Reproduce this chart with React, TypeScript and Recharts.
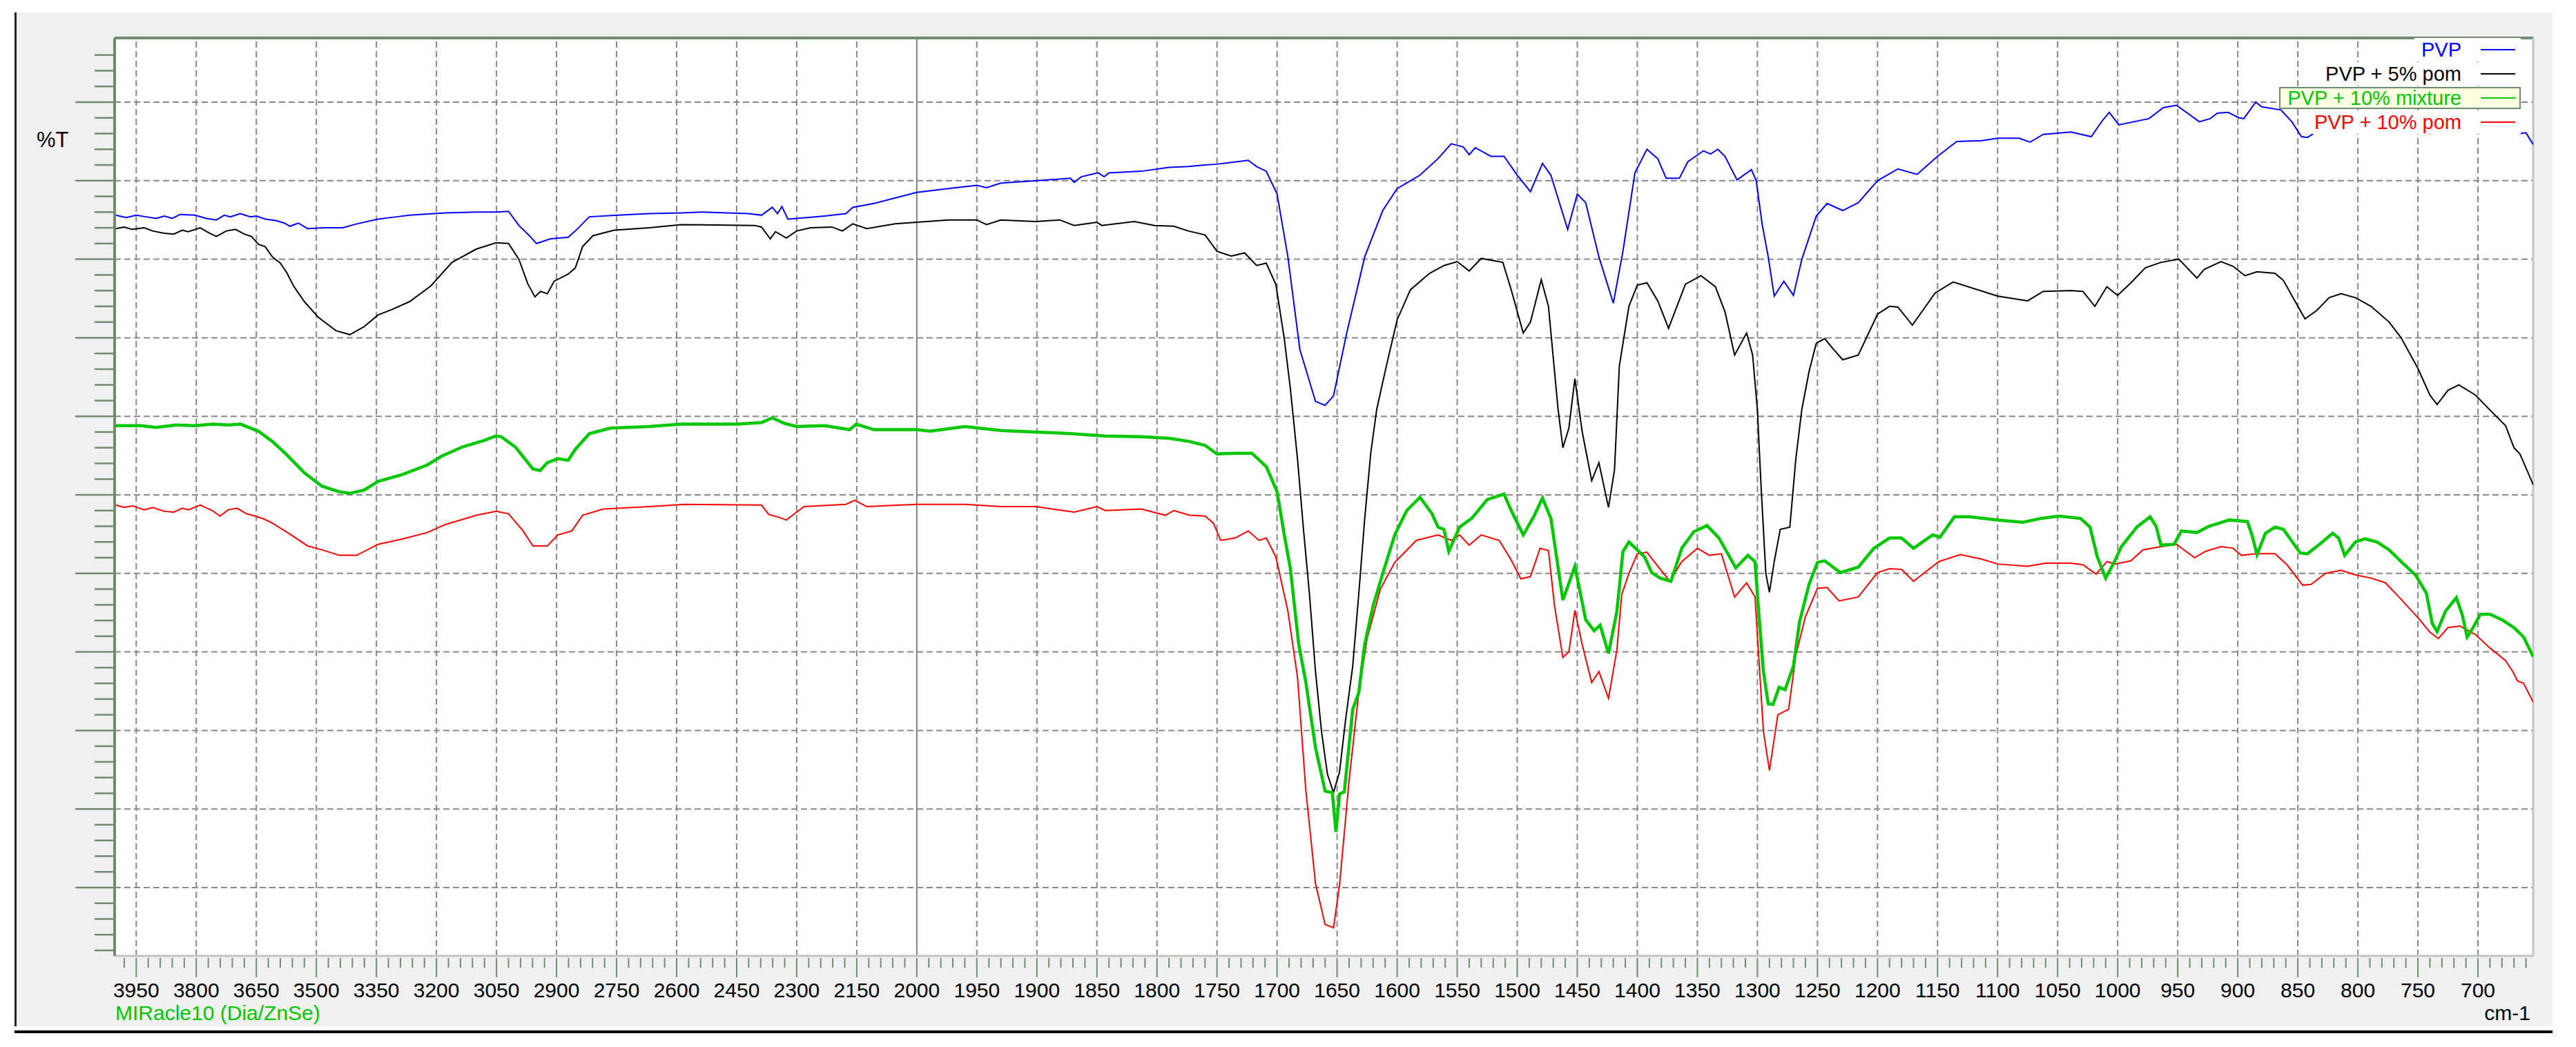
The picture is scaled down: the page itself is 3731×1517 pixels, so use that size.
import React from 'react';
import { LineChart, Line, XAxis, YAxis, ReferenceLine, CartesianGrid, Legend } from 'recharts';

const W = 3731;
const H = 1517;
const FONT = '"Liberation Sans", Arial, sans-serif';
const FRAME = '#6f8c6f';

// spectra as [wavenumber (cm-1), %T]
const pvp: [number, number][] = [
  [4001, 85.6], [3975, 85.3], [3950, 85.6], [3926, 85.4], [3900, 85.2], [3880, 85.5], [3860, 85.2], [3840, 85.7],
  [3803, 85.6], [3775, 85.2], [3750, 85.0], [3730, 85.6], [3715, 85.4], [3690, 85.8], [3665, 85.4], [3650, 85.5],
  [3627, 85.1], [3600, 84.9], [3580, 84.6], [3566, 84.2], [3545, 84.6], [3522, 83.9], [3480, 84.0], [3434, 84.0],
  [3399, 84.5], [3346, 85.1], [3300, 85.4], [3267, 85.6], [3179, 85.9], [3100, 86.0], [3051, 86.0], [3020, 86.1],
  [2994, 84.3], [2968, 83.0], [2950, 82.0], [2915, 82.6], [2871, 82.8], [2853, 83.6], [2818, 85.4], [2747, 85.6],
  [2668, 85.8], [2589, 85.9], [2537, 86.0], [2420, 85.8], [2388, 85.6], [2361, 86.6], [2348, 85.8], [2337, 86.7],
  [2322, 85.1], [2300, 85.2], [2230, 85.5], [2177, 85.8], [2160, 86.6], [2107, 87.1], [2054, 87.8], [2000, 88.5],
  [1974, 89.0], [1950, 89.4], [1942, 89.1], [1930, 89.7], [1900, 90.0], [1872, 90.3], [1869, 89.8], [1863, 90.5],
  [1849, 91.0], [1844, 90.5], [1840, 91.0], [1813, 91.2], [1790, 91.7], [1774, 91.8], [1760, 92.0], [1750, 92.1],
  [1724, 92.6], [1717, 91.8], [1709, 91.2], [1700, 88.3], [1691, 80.3], [1681, 68.5], [1668, 61.9], [1660, 61.4],
  [1653, 62.6], [1642, 70.6], [1627, 80.3], [1612, 86.2], [1600, 89.0], [1581, 90.7], [1566, 92.8], [1555, 94.7],
  [1545, 94.3], [1540, 93.3], [1535, 94.2], [1522, 93.1], [1511, 93.1], [1500, 90.7], [1489, 88.6], [1479, 92.2],
  [1472, 90.7], [1458, 83.8], [1450, 88.3], [1443, 87.2], [1432, 80.3], [1420, 74.4], [1412, 81.0], [1402, 91.0],
  [1392, 94.0], [1383, 92.8], [1376, 90.3], [1365, 90.3], [1358, 92.4], [1345, 93.8], [1339, 93.4], [1333, 94.0],
  [1327, 93.1], [1317, 90.1], [1305, 91.4], [1301, 90.0], [1296, 84.4], [1291, 80.3], [1286, 75.3], [1278, 77.2],
  [1270, 75.4], [1263, 80.0], [1251, 85.5], [1242, 87.1], [1229, 86.2], [1216, 87.2], [1200, 90.0], [1183, 91.5],
  [1167, 90.8], [1150, 93.1], [1134, 95.0], [1113, 95.1], [1100, 95.4], [1082, 95.4], [1073, 94.9], [1062, 95.9],
  [1039, 96.2], [1022, 95.6], [1013, 97.6], [1007, 98.7], [999, 97.1], [974, 97.9], [962, 99.3], [951, 99.6],
  [932, 97.5], [923, 97.9], [917, 98.6], [908, 98.7], [899, 98.0], [895, 97.9], [885, 100.0], [880, 99.4],
  [864, 99.0], [855, 97.5], [847, 95.6], [842, 95.5], [836, 96.1], [820, 97.2], [800, 97.5], [780, 97.0],
  [760, 96.5], [740, 96.0], [720, 96.5], [700, 97.0], [680, 96.8], [665, 96.0], [660, 96.1], [654, 94.6],
];

const pvpPom5: [number, number][] = [
  [4001, 83.9], [3980, 84.1], [3960, 83.8], [3930, 84.0], [3909, 83.6], [3880, 83.3], [3856, 83.2], [3835, 83.7],
  [3820, 83.5], [3790, 84.0], [3770, 83.4], [3750, 82.9], [3725, 83.6], [3702, 83.8], [3680, 83.2], [3662, 82.9],
  [3645, 81.9], [3628, 81.6], [3610, 80.3], [3590, 79.5], [3574, 78.3], [3557, 76.6], [3530, 74.6], [3495, 72.6],
  [3451, 70.9], [3416, 70.4], [3381, 71.4], [3346, 72.9], [3311, 73.6], [3267, 74.6], [3214, 76.6], [3161, 79.6],
  [3100, 81.3], [3051, 82.1], [3020, 82.0], [2994, 80.0], [2972, 76.9], [2954, 75.2], [2940, 75.9], [2923, 75.6],
  [2906, 77.2], [2871, 78.1], [2853, 78.9], [2835, 81.6], [2809, 83.0], [2756, 83.7], [2668, 84.0], [2589, 84.4],
  [2405, 84.3], [2388, 84.1], [2366, 82.6], [2353, 83.5], [2326, 82.7], [2300, 83.6], [2265, 84.0], [2212, 84.1],
  [2186, 83.6], [2160, 84.5], [2125, 83.9], [2054, 84.5], [2000, 84.7], [1974, 85.0], [1950, 85.0], [1942, 84.4],
  [1930, 85.0], [1901, 84.8], [1881, 85.0], [1869, 84.3], [1850, 84.7], [1846, 84.3], [1819, 84.8], [1802, 84.3],
  [1786, 84.2], [1774, 83.6], [1760, 83.1], [1750, 81.0], [1738, 80.4], [1727, 80.8], [1717, 79.2], [1709, 79.5],
  [1701, 76.8], [1694, 69.9], [1689, 63.6], [1683, 54.6], [1678, 45.6], [1673, 37.3], [1668, 27.5], [1663, 19.9],
  [1658, 14.4], [1653, 12.1], [1648, 14.7], [1643, 21.3], [1637, 28.2], [1632, 37.3], [1627, 47.0], [1622, 55.3],
  [1617, 60.9], [1609, 66.4], [1600, 72.3], [1589, 76.1], [1573, 78.2], [1561, 79.2], [1550, 79.7], [1540, 78.5],
  [1530, 80.1], [1512, 79.6], [1505, 76.1], [1495, 70.6], [1489, 72.0], [1480, 77.4], [1474, 74.0], [1466, 60.9],
  [1462, 56.0], [1457, 58.5], [1452, 64.8], [1446, 58.1], [1438, 51.8], [1432, 54.1], [1424, 48.4], [1419, 53.2],
  [1415, 66.4], [1407, 74.0], [1400, 76.7], [1392, 77.0], [1383, 74.7], [1374, 71.2], [1360, 76.8], [1347, 77.9],
  [1335, 76.5], [1327, 73.3], [1319, 67.8], [1309, 70.6], [1304, 67.8], [1300, 60.8], [1297, 51.2], [1293, 40.0],
  [1290, 37.6], [1286, 41.5], [1281, 45.6], [1273, 45.9], [1268, 54.6], [1263, 60.9], [1257, 65.7], [1251, 69.3],
  [1244, 69.9], [1237, 68.6], [1229, 67.2], [1216, 67.8], [1200, 73.0], [1190, 74.0], [1183, 73.9], [1171, 71.6],
  [1152, 75.7], [1137, 77.1], [1100, 75.3], [1075, 74.7], [1062, 75.9], [1039, 76.0], [1029, 75.9], [1019, 74.0],
  [1009, 76.5], [1000, 75.4], [989, 77.0], [977, 78.9], [964, 79.6], [949, 80.0], [934, 77.6], [928, 78.7],
  [914, 79.7], [904, 79.1], [894, 77.9], [884, 78.4], [869, 78.2], [862, 77.3], [854, 75.1], [844, 72.4],
  [834, 73.5], [824, 75.1], [814, 75.6], [802, 75.1], [789, 74.0], [774, 72.0], [764, 70.0], [750, 66.1],
  [740, 62.7], [734, 61.5], [725, 63.3], [716, 64.0], [702, 62.7], [690, 60.8], [677, 58.8], [670, 56.0],
  [665, 55.2], [654, 51.3],
];

const pvpMix10: [number, number][] = [
  [4001, 58.8], [3940, 58.8], [3900, 58.6], [3850, 58.9], [3803, 58.8], [3759, 59.0], [3720, 58.9], [3689, 59.0],
  [3645, 58.1], [3610, 56.8], [3574, 55.1], [3530, 52.8], [3486, 51.1], [3443, 50.4], [3416, 50.2], [3381, 50.6],
  [3346, 51.7], [3284, 52.6], [3223, 53.8], [3188, 54.9], [3135, 56.1], [3082, 56.9], [3051, 57.5], [3038, 57.4],
  [3003, 56.1], [2959, 53.3], [2941, 53.1], [2923, 54.1], [2897, 54.6], [2871, 54.4], [2853, 55.8], [2818, 57.8],
  [2765, 58.5], [2668, 58.7], [2589, 59.0], [2449, 59.0], [2388, 59.2], [2361, 59.8], [2331, 59.1], [2300, 58.7],
  [2230, 58.8], [2168, 58.3], [2151, 59.0], [2107, 58.3], [2000, 58.3], [1989, 58.1], [1960, 58.7], [1930, 58.2],
  [1901, 58.0], [1872, 57.8], [1843, 57.5], [1813, 57.4], [1790, 57.2], [1773, 56.8], [1760, 56.3], [1750, 55.2],
  [1735, 55.3], [1721, 55.3], [1709, 53.6], [1700, 50.4], [1694, 44.9], [1689, 40.7], [1682, 31.0], [1676, 26.1],
  [1668, 17.8], [1660, 12.3], [1654, 12.1], [1651, 7.1], [1648, 11.9], [1644, 12.2], [1637, 22.7], [1632, 24.8],
  [1627, 31.0], [1620, 35.9], [1612, 40.0], [1602, 44.9], [1592, 48.0], [1581, 49.7], [1571, 47.6], [1566, 45.9],
  [1561, 45.6], [1557, 42.8], [1548, 45.9], [1538, 47.0], [1525, 49.4], [1511, 50.1], [1505, 48.0], [1495, 44.9],
  [1486, 47.3], [1479, 49.6], [1472, 47.0], [1462, 36.6], [1452, 40.9], [1443, 34.1], [1436, 32.7], [1431, 33.4],
  [1424, 29.8], [1417, 35.2], [1412, 42.8], [1407, 44.0], [1394, 42.1], [1388, 40.1], [1381, 39.4], [1372, 39.0],
  [1363, 43.2], [1353, 45.3], [1342, 46.1], [1332, 44.5], [1318, 40.7], [1308, 42.3], [1302, 41.5], [1299, 35.2],
  [1295, 27.5], [1291, 23.4], [1287, 23.3], [1282, 25.5], [1277, 25.2], [1270, 28.2], [1265, 33.8], [1257, 38.6],
  [1250, 41.4], [1244, 41.6], [1231, 40.1], [1216, 40.8], [1203, 43.2], [1190, 44.5], [1180, 44.5], [1170, 43.2],
  [1154, 44.9], [1148, 44.6], [1136, 47.2], [1123, 47.2], [1100, 46.8], [1079, 46.5], [1064, 47.0], [1049, 47.3],
  [1031, 47.0], [1023, 45.9], [1017, 42.1], [1010, 39.4], [1003, 41.4], [997, 43.4], [984, 45.9], [973, 47.2],
  [968, 46.0], [964, 43.6], [953, 43.7], [947, 45.4], [934, 45.2], [924, 46.0], [907, 46.8], [892, 46.6],
  [888, 44.8], [884, 42.4], [877, 45.1], [869, 45.9], [862, 45.6], [848, 42.6], [842, 42.5], [832, 43.7],
  [821, 45.1], [816, 44.5], [811, 42.3], [802, 44.0], [794, 44.4], [784, 44.0], [774, 43.0], [764, 41.5],
  [752, 39.8], [743, 37.5], [738, 33.6], [734, 32.6], [727, 35.2], [718, 36.9], [713, 34.7], [709, 31.9],
  [704, 33.1], [698, 34.8], [690, 34.8], [680, 34.1], [670, 33.1], [662, 31.9], [654, 29.4],
];

const pvpPom10: [number, number][] = [
  [4001, 48.7], [3980, 48.4], [3960, 48.6], [3930, 48.1], [3909, 48.4], [3880, 47.9], [3856, 47.8], [3835, 48.3],
  [3820, 48.1], [3790, 48.7], [3760, 48.0], [3741, 47.3], [3720, 48.1], [3698, 48.3], [3675, 47.6], [3653, 47.3],
  [3630, 46.9], [3610, 46.4], [3566, 45.0], [3522, 43.5], [3486, 43.0], [3443, 42.3], [3399, 42.3], [3346, 43.7],
  [3284, 44.4], [3223, 45.2], [3179, 46.2], [3100, 47.4], [3051, 47.9], [3020, 47.6], [2985, 45.5], [2959, 43.5],
  [2923, 43.5], [2897, 44.9], [2862, 45.4], [2835, 47.4], [2783, 48.2], [2668, 48.5], [2580, 48.8], [2388, 48.7],
  [2370, 47.5], [2348, 47.2], [2326, 46.8], [2300, 47.8], [2282, 48.5], [2177, 48.8], [2155, 49.3], [2125, 48.5],
  [2000, 48.8], [1960, 48.8], [1930, 48.5], [1901, 48.5], [1869, 47.8], [1850, 48.5], [1843, 48.0], [1813, 48.2],
  [1793, 47.4], [1786, 48.0], [1773, 47.4], [1760, 47.3], [1753, 46.4], [1747, 44.2], [1735, 44.5], [1724, 45.4],
  [1715, 44.2], [1709, 44.5], [1701, 42.1], [1691, 35.2], [1683, 26.8], [1676, 12.3], [1668, 0.5], [1660, -4.7],
  [1653, -5.1], [1648, 0.3], [1640, 13.7], [1632, 24.8], [1625, 31.7], [1614, 38.0], [1602, 41.4], [1584, 44.2],
  [1566, 44.9], [1555, 44.2], [1548, 44.9], [1540, 43.6], [1530, 44.9], [1515, 44.2], [1505, 41.7], [1497, 39.3],
  [1489, 39.6], [1481, 43.2], [1474, 42.9], [1469, 35.9], [1462, 29.3], [1457, 30.0], [1452, 35.3], [1446, 31.0],
  [1438, 26.1], [1432, 27.5], [1424, 24.1], [1417, 30.3], [1413, 37.3], [1407, 40.0], [1400, 42.5], [1392, 42.7],
  [1386, 41.5], [1373, 39.0], [1363, 41.5], [1350, 43.2], [1340, 42.3], [1330, 42.5], [1319, 37.0], [1309, 38.8],
  [1302, 37.0], [1299, 29.6], [1295, 19.9], [1290, 14.9], [1283, 22.0], [1274, 22.7], [1268, 29.6], [1260, 34.5],
  [1250, 38.1], [1242, 38.2], [1232, 36.5], [1216, 37.0], [1200, 40.1], [1190, 40.6], [1180, 40.5], [1170, 39.0],
  [1149, 41.5], [1131, 42.4], [1113, 41.8], [1100, 41.2], [1075, 40.9], [1060, 41.3], [1039, 41.3], [1029, 41.1],
  [1018, 39.9], [1009, 41.5], [1002, 41.2], [989, 41.6], [979, 43.0], [964, 43.4], [951, 43.7], [936, 42.0],
  [927, 42.8], [914, 43.4], [904, 43.2], [897, 42.3], [884, 42.5], [869, 42.5], [859, 41.1], [846, 38.5],
  [839, 38.6], [827, 40.0], [814, 40.4], [802, 39.8], [789, 39.4], [777, 38.8], [764, 36.7], [749, 34.2],
  [740, 32.5], [733, 31.7], [725, 33.1], [715, 33.3], [702, 32.2], [690, 30.5], [677, 28.9], [671, 27.5],
  [667, 26.3], [662, 26.0], [654, 23.6],
];

const seriesNames = ['PVP', 'PVP + 5% pom', 'PVP + 10% mixture', 'PVP + 10% pom'];
const seriesColors = ['#0000ff', '#000000', '#00c800', '#ff0000'];
const seriesData = [pvp, pvpPom5, pvpMix10, pvpPom10];
const selectedIndex = 2;
const drawOrder = [0, 1, 3, 2];

const xLabels = [
  3950, 3800, 3650, 3500, 3350, 3200, 3050, 2900, 2750, 2600, 2450, 2300, 2150, 2000,
  1950, 1900, 1850, 1800, 1750, 1700, 1650, 1600, 1550, 1500, 1450, 1400, 1350, 1300,
  1250, 1200, 1150, 1100, 1050, 1000, 950, 900, 850, 800, 750, 700,
];
const yGrid = [0, 10, 20, 30, 40, 50, 60, 70, 80, 90, 100];

// the instrument compresses the axis 3:1 above 2000 cm-1
const warp = (wn: number) => (wn > 2000 ? 2000 + (wn - 2000) / 3 : wn);
const unwarp = (u: number) => (u > 2000 ? 2000 + (u - 2000) * 3 : u);

const X_LEFT = 2668;
const X_RIGHT = 654;
const Y_TOP = 108.17;
const Y_BOTTOM = -8.7;

const xTicks: number[] = [];
for (let u = 660; u <= 2660; u += 10) xTicks.push(u);
const yTicks: number[] = [];
for (let v = -8; v <= 106; v += 2) yTicks.push(v);

const gridU = xLabels.map(warp).filter((u) => u !== 2000);

const XTick = (props: any) => {
  const { x, y, payload } = props;
  const u = payload.value;
  const major = u % 50 === 0;
  return (
    <g>
      <line x1={x} x2={x} y1={y + 3} y2={y + (major ? 31 : 17)} stroke={FRAME} strokeWidth={2} />
      {major && (
        <text x={x} y={y + 60} textAnchor="middle" fontSize={30} fill="#000" fontFamily={FONT}>
          {unwarp(u)}
        </text>
      )}
    </g>
  );
};

const YTick = (props: any) => {
  const { x, y, payload } = props;
  const major = payload.value % 10 === 0;
  return <line x1={x - (major ? 57 : 29)} x2={x} y1={y} y2={y} stroke={FRAME} strokeWidth={2.5} />;
};

const renderLegend = () => (
  <div style={{ position: 'relative', width: W, height: 200 }}>
    {seriesNames.map((name, i) => {
      const selected = i === selectedIndex;
      const cy = 72 + i * 35;
      return (
        <div
          key={name}
          style={{
            position: 'absolute',
            right: W - 3651,
            top: cy - (selected ? 16 : 17),
            height: selected ? 32 : 34,
            boxSizing: 'border-box',
            display: 'flex',
            alignItems: 'center',
            background: selected ? '#ffffe1' : '#fff',
            border: selected ? `2px solid ${FRAME}` : 'none',
            paddingLeft: 10,
            paddingRight: selected ? 6 : 8,
            fontSize: 29,
            fontFamily: FONT,
            color: seriesColors[i],
            whiteSpace: 'nowrap',
            lineHeight: 1,
          }}
        >
          <span>{name}</span>
          <span style={{ display: 'inline-block', width: 50, height: 2, background: seriesColors[i], marginLeft: 28 }} />
        </div>
      );
    })}
  </div>
);

export default function App() {
  const series = seriesData.map((arr, i) => ({
    name: seriesNames[i],
    color: seriesColors[i],
    points: arr.map(([wn, t]) => ({ u: warp(wn), t })),
  }));

  return (
    <div style={{ position: 'absolute', left: 0, top: 0, width: W, height: H, background: '#fff', overflow: 'hidden' }}>
      <div style={{ position: 'absolute', left: 21, top: 18, width: 3697 - 21, height: 1487 - 18, background: '#f0f0f0', borderLeft: '3px solid #222', boxSizing: 'border-box' }} />
      <div style={{ position: 'absolute', left: 21, top: 1493, width: 3697 - 21, height: 4, background: '#000' }} />
      <div style={{ position: 'absolute', left: 0, top: 0 }}>
        <LineChart width={W} height={H} margin={{ top: 55, right: W - 3669, bottom: 72, left: 106 }}>
          <CartesianGrid fill="#fff" horizontal={false} vertical={false} />
          <XAxis
            type="number"
            dataKey="u"
            domain={[X_RIGHT, X_LEFT]}
            reversed
            allowDataOverflow
            ticks={xTicks}
            interval={0}
            height={60}
            tickSize={0}
            tickMargin={0}
            tickLine={false}
            tick={<XTick />}
            axisLine={{ stroke: '#c4c4c4', strokeWidth: 3 }}
          />
          <YAxis
            type="number"
            domain={[Y_BOTTOM, Y_TOP]}
            allowDataOverflow
            ticks={yTicks}
            interval={0}
            width={60}
            tickSize={0}
            tickMargin={0}
            tickLine={false}
            tick={<YTick />}
            axisLine={{ stroke: FRAME, strokeWidth: 4 }}
          />
          {gridU.map((u) => (
            <ReferenceLine key={'gx' + u} x={u} stroke="#888" strokeWidth={2} strokeDasharray="9 5" />
          ))}
          {yGrid.map((v) => (
            <ReferenceLine key={'gy' + v} y={v} stroke="#888" strokeWidth={2} strokeDasharray="9 5" />
          ))}
          <ReferenceLine x={2000} stroke={FRAME} strokeWidth={2} />
          <ReferenceLine y={Y_TOP} stroke={FRAME} strokeWidth={4} />
          <ReferenceLine x={X_RIGHT} stroke="#c4c4c4" strokeWidth={3} />
          {drawOrder.map((i) => (
            <Line
              key={series[i].name}
              data={series[i].points}
              dataKey="t"
              name={series[i].name}
              type="linear"
              stroke={series[i].color}
              strokeWidth={i === selectedIndex ? 4.5 : 2}
              dot={false}
              activeDot={false}
              isAnimationActive={false}
            />
          ))}
          <Legend layout="vertical" align="center" verticalAlign="middle" content={renderLegend} wrapperStyle={{ left: 0, top: 0, width: W }} />
        </LineChart>
      </div>
      <svg width={W} height={H} style={{ position: 'absolute', left: 0, top: 0, pointerEvents: 'none' }}>
        <text x={53} y={213} fontSize={31} fill="#000" fontFamily={FONT}>%T</text>
        <text x={167} y={1478} fontSize={30} fill="#00c800" fontFamily={FONT}>MIRacle10 (Dia/ZnSe)</text>
        <text x={3665} y={1478} fontSize={30} fill="#000" fontFamily={FONT} textAnchor="end">cm-1</text>
      </svg>
    </div>
  );
}
